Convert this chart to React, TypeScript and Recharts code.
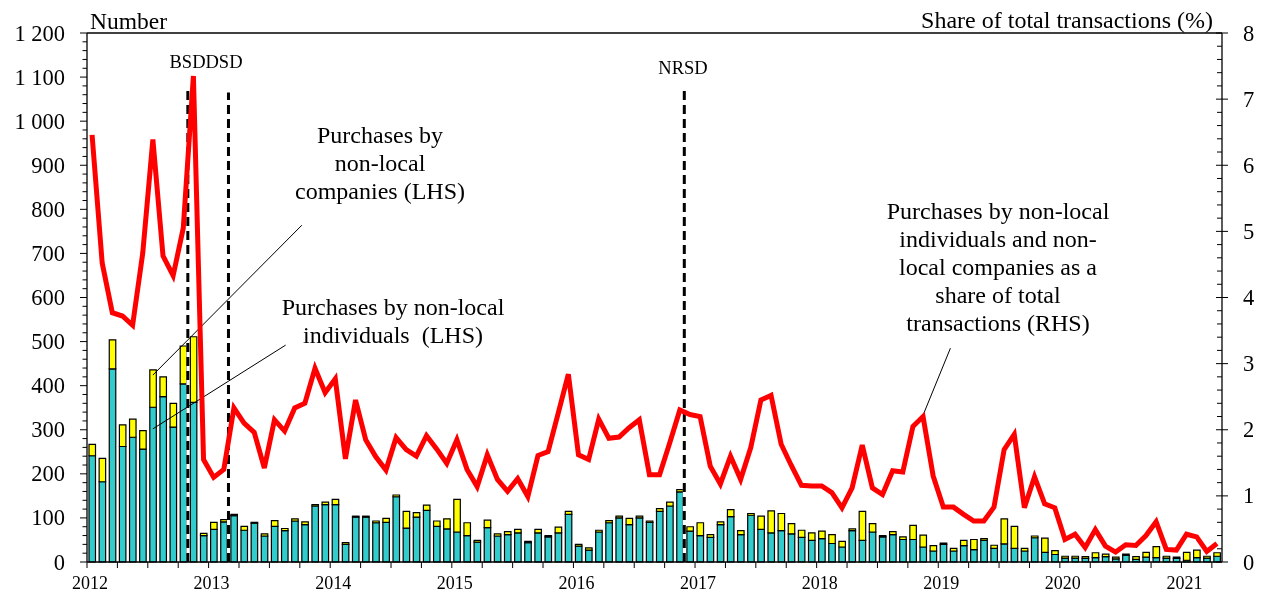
import React from 'react';
import { ComposedChart, Bar, Line, XAxis, YAxis, ReferenceLine } from 'recharts';

// Monthly data, Jan 2012 – Apr 2021
const START_YEAR = 2012;

// Purchases by non-local individuals (LHS, number)
const individuals = [
  241, 182, 438, 262, 283, 256, 351, 375, 306, 404, 362, 60,
  74, 91, 105, 72, 88, 59, 81, 71, 93, 85, 127, 130,
  130, 40, 102, 102, 89, 90, 148, 77, 102, 117, 81, 75,
  68, 60, 45, 78, 59, 62, 66, 44, 66, 57, 66, 108,
  36, 27, 68, 89, 100, 85, 100, 90, 115, 127, 159, 70,
  60, 56, 85, 103, 62, 106, 74, 66, 71, 64, 56, 49,
  53, 42, 34, 71, 49, 68, 57, 62, 51, 51, 34, 25,
  40, 25, 37, 28, 49, 31, 41, 31, 25, 55, 22, 17,
  9, 9, 8, 10, 12, 7, 15, 6, 11, 10, 9, 8,
  4, 10, 9, 13,
];

// Purchases by non-local companies (LHS, number)
const companies = [
  26, 53, 66, 49, 41, 42, 85, 45, 54, 86, 149, 5,
  16, 5, 3, 9, 2, 5, 13, 5, 5, 6, 3, 6,
  12, 4, 2, 2, 4, 9, 4, 38, 10, 12, 12, 23,
  74, 29, 4, 17, 5, 7, 8, 3, 8, 3, 13, 7,
  4, 5, 4, 5, 4, 14, 4, 3, 6, 9, 5, 10,
  29, 6, 6, 16, 9, 4, 30, 50, 39, 23, 16, 17,
  17, 20, 13, 4, 66, 19, 3, 7, 6, 32, 27, 12,
  3, 6, 12, 23, 4, 7, 57, 50, 6, 4, 32, 9,
  4, 4, 4, 11, 6, 4, 3, 6, 11, 25, 4, 3,
  18, 17, 4, 8,
];

// Share of total transactions (RHS, %)
const shareOfTotal = [
  6.46, 4.52, 3.77, 3.72, 3.58, 4.67, 6.39, 4.63, 4.33, 5.05, 7.35, 1.55,
  1.28, 1.40, 2.33, 2.10, 1.96, 1.42, 2.15, 1.98, 2.33, 2.40, 2.93, 2.56,
  2.77, 1.56, 2.45, 1.85, 1.59, 1.39, 1.88, 1.70, 1.60, 1.91, 1.71, 1.49,
  1.85, 1.40, 1.14, 1.62, 1.25, 1.07, 1.26, 0.99, 1.61, 1.67, 2.25, 2.84,
  1.62, 1.55, 2.16, 1.87, 1.89, 2.03, 2.15, 1.32, 1.32, 1.80, 2.30, 2.23,
  2.20, 1.45, 1.18, 1.60, 1.25, 1.73, 2.45, 2.52, 1.78, 1.46, 1.16, 1.15,
  1.15, 1.05, 0.82, 1.12, 1.77, 1.12, 1.02, 1.38, 1.36, 2.05, 2.20, 1.30,
  0.83, 0.83, 0.72, 0.62, 0.62, 0.83, 1.70, 1.93, 0.82, 1.29, 0.88, 0.82,
  0.34, 0.42, 0.22, 0.49, 0.24, 0.15, 0.26, 0.25, 0.40, 0.61, 0.19, 0.18,
  0.42, 0.38, 0.16, 0.28,
];

// Policy events (position in months since Jan 2012)
const events = [
  { name: 'BSD', month: 9.95, top: 1070 },
  { name: 'DSD', month: 13.96, top: 1065 },
  { name: 'NRSD', month: 58.94, top: 1080 },
];

const leftTicks = Array.from({ length: 61 }, (_, i) => i * 20);
const rightTicks = Array.from({ length: 41 }, (_, i) => i / 5);
const xTicks = Array.from({ length: 38 }, (_, i) => i * 3);

const data = individuals.map((v, i) => ({
  m: i + 0.5,
  ind: v,
  com: companies[i],
  share: shareOfTotal[i],
}));

// Annotation leader lines (month, LHS value)
const leaders = [
  [{ x: 6.5, y: 424 }, { x: 21.2, y: 764 }],
  [{ x: 6.5, y: 302 }, { x: 19.6, y: 492 }],
  [{ x: 82.5, y: 333 }, { x: 85.2, y: 485 }],
];

const FONT = '"Liberation Serif", "Times New Roman", serif';
const W = 1249;
const H = 589;
const LEFT_MARGIN = 22;
const RIGHT_MARGIN = 21;

const fmtLeft = (v: number) =>
  v >= 1000 ? `${Math.floor(v / 1000)} ${String(v % 1000).padStart(3, '0')}` : String(v);

const LeftTick = (props: any) => {
  const { x, y, payload } = props;
  const v = payload.value;
  const axisX = x + LEFT_MARGIN;
  const major = v % 100 === 0;
  return (
    <g>
      <line x1={axisX - (major ? 7 : 4.5)} x2={axisX} y1={y} y2={y} stroke="#000" strokeWidth={1} />
      {major && (
        <text x={x} y={y} textAnchor="end" dominantBaseline="central" fontSize={22.5} fontFamily={FONT} fill="#000">
          {fmtLeft(v)}
        </text>
      )}
    </g>
  );
};

const RightTick = (props: any) => {
  const { x, y, payload } = props;
  const v = payload.value;
  const axisX = x - RIGHT_MARGIN;
  const major = Math.abs(v - Math.round(v)) < 1e-6;
  return (
    <g>
      <line x1={axisX - (major ? 6 : 5)} x2={axisX + (major ? 6 : 0)} y1={y} y2={y} stroke="#000" strokeWidth={1} />
      {major && (
        <text x={x} y={y} textAnchor="start" dominantBaseline="central" fontSize={22.5} fontFamily={FONT} fill="#000">
          {Math.round(v)}
        </text>
      )}
    </g>
  );
};

const XTick = (props: any) => {
  const { x, y, payload } = props;
  const v = payload.value;
  const isYear = v % 12 === 0;
  return (
    <g>
      <line x1={x} x2={x} y1={y} y2={y + 6} stroke="#000" strokeWidth={1} />
      {isYear && (
        <text x={x + 3} y={y + 21} textAnchor="middle" dominantBaseline="central" fontSize={18} fontFamily={FONT} fill="#000">
          {START_YEAR + v / 12}
        </text>
      )}
    </g>
  );
};

const P = (v: number) => v - 8;

const annotations = [
  { cx: 380, lines: ['Purchases by', 'non-local', 'companies (LHS)'], y0: 135 },
  { cx: 393, lines: ['Purchases by non-local', 'individuals\u00a0 (LHS)'], y0: 307 },
  {
    cx: 998,
    lines: [
      'Purchases by non-local',
      'individuals and non-',
      'local companies as a',
      'share of total',
      'transactions (RHS)',
    ],
    y0: 211,
  },
];

export default function App() {
  return (
    <div style={{ position: 'fixed', left: 8, top: 8, width: W, height: H }}>
      <ComposedChart
        width={W}
        height={H}
        data={data}
        margin={{ top: 25, right: 0, bottom: 8, left: 0 }}
      >
        <XAxis
          dataKey="m"
          type="number"
          domain={[0, 112]}
          ticks={xTicks}
          interval={0}
          tickSize={0}
          tickMargin={0}
          height={27}
          axisLine={{ stroke: '#000', strokeWidth: 1.3 }}
          tickLine={false}
          tick={(p: any) => <XTick {...p} />}
        />
        <YAxis
          yAxisId="left"
          orientation="left"
          domain={[0, 1200]}
          ticks={leftTicks}
          interval={0}
          width={79}
          tickSize={0}
          tickMargin={LEFT_MARGIN}
          axisLine={{ stroke: '#000', strokeWidth: 1.3 }}
          tickLine={false}
          tick={(p: any) => <LeftTick {...p} />}
        />
        <YAxis
          yAxisId="right"
          orientation="right"
          domain={[0, 8]}
          ticks={rightTicks}
          interval={0}
          width={35}
          tickSize={0}
          tickMargin={RIGHT_MARGIN}
          axisLine={{ stroke: '#000', strokeWidth: 1.3 }}
          tickLine={false}
          tick={(p: any) => <RightTick {...p} />}
        />
        <ReferenceLine yAxisId="left" y={1200} stroke="#000" strokeWidth={1.3} />
        <Bar
          yAxisId="left"
          dataKey="ind"
          stackId="a"
          fill="#33cccc"
          stroke="#000"
          strokeWidth={1.2}
          barSize={6.5}
          isAnimationActive={false}
        />
        <Bar
          yAxisId="left"
          dataKey="com"
          stackId="a"
          fill="#ffff00"
          stroke="#000"
          strokeWidth={1.2}
          barSize={6.5}
          isAnimationActive={false}
        />
        {events.map((e) => (
          <ReferenceLine
            key={e.name + 'bg'}
            yAxisId="left"
            segment={[{ x: e.month, y: 0 }, { x: e.month, y: e.top }]}
            stroke="#fff"
            strokeWidth={3}
          />
        ))}
        {events.map((e) => (
          <ReferenceLine
            key={e.name}
            yAxisId="left"
            segment={[{ x: e.month, y: 0 }, { x: e.month, y: e.top }]}
            stroke="#000"
            strokeWidth={3}
            strokeDasharray="9 5"
          />
        ))}
        {leaders.map((seg, i) => (
          <ReferenceLine key={'ld' + i} yAxisId="left" segment={seg} stroke="#000" strokeWidth={1} />
        ))}
        <Line
          yAxisId="right"
          dataKey="share"
          type="linear"
          stroke="#ff0000"
          strokeWidth={5}
          dot={false}
          activeDot={false}
          isAnimationActive={false}
        />
      </ComposedChart>
      <svg
        width={W}
        height={H}
        style={{ position: 'absolute', left: 0, top: 0, pointerEvents: 'none' }}
        fontFamily={FONT}
      >
        <text x={P(90)} y={P(21)} fontSize={23.5} dominantBaseline="central" fill="#000">Number</text>
        <text x={P(1213)} y={P(20)} fontSize={24} textAnchor="end" dominantBaseline="central" fill="#000">
          Share of total transactions (%)
        </text>
        <text x={P(206)} y={P(62)} fontSize={18.5} textAnchor="middle" dominantBaseline="central" fill="#000">BSDDSD</text>
        <text x={P(683)} y={P(68)} fontSize={18.5} textAnchor="middle" dominantBaseline="central" fill="#000">NRSD</text>
        {annotations.map((a, i) => (
          <g key={i}>
            {a.lines.map((l, j) => (
              <text
                key={j}
                x={P(a.cx)}
                y={P(a.y0 + j * 28)}
                fontSize={24}
                textAnchor="middle"
                dominantBaseline="central"
                fill="#000"
              >
                {l}
              </text>
            ))}
          </g>
        ))}
      </svg>
    </div>
  );
}
